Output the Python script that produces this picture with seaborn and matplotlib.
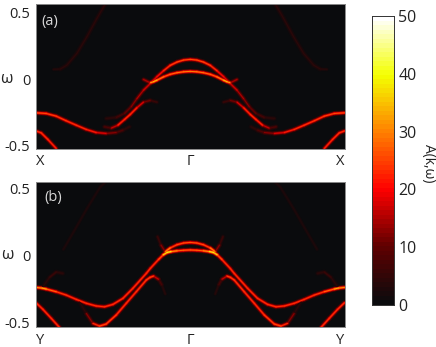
import numpy as np
import pandas as pd
import matplotlib
matplotlib.use("Agg")
import matplotlib.pyplot as plt
from matplotlib.colors import LinearSegmentedColormap
import seaborn as sns

# Bands, left half only (the map is mirrored around Gamma)
# each band: k, omega, intensity at each point
a_main_k = [-1.0, -0.934, -0.869, -0.804, -0.739, -0.674, -0.610, -0.545, -0.480, -0.436, -0.394]
a_main_w = [-0.253, -0.258, -0.278, -0.313, -0.346, -0.378, -0.401, -0.408, -0.401, -0.383, -0.358]
a_main_i = [27, 26, 25, 24, 24, 23, 21, 16, 10, 6, 3]

a_low_k = [-1.0, -0.966, -0.923, -0.869]
a_low_w = [-0.389, -0.404, -0.453, -0.521]
a_low_i = [24, 24, 24, 22]

a_hump_k = [-0.556, -0.512, -0.469, -0.426, -0.389, -0.346, -0.303, -0.259, -0.216]
a_hump_w = [-0.358, -0.368, -0.346, -0.303, -0.265, -0.215, -0.173, -0.160, -0.173]
a_hump_i = [5, 12, 22, 24, 24, 22, 14, 8, 3]

a_upper_k = [-0.545, -0.480, -0.426, -0.383, -0.346, -0.303, -0.259, -0.216, -0.173, -0.130, -0.086, -0.043, 0.0]
a_upper_w = [-0.296, -0.288, -0.258, -0.208, -0.147, -0.083, -0.033, 0.018, 0.063, 0.103, 0.128, 0.143, 0.148]
a_upper_i = [3, 6, 9, 12, 14, 16, 19, 20, 22, 25, 26, 26, 26]

a_inner_k = [-0.303, -0.259, -0.238, -0.216, -0.173, -0.130, -0.086, -0.043, 0.0]
a_inner_w = [-0.003, -0.028, -0.019, -0.008, 0.017, 0.036, 0.048, 0.055, 0.058]
a_inner_i = [3, 28, 38, 32, 28, 28, 29, 30, 30]

a_faint_k = [-0.886, -0.843, -0.800, -0.735, -0.670, -0.605, -0.551]
a_faint_w = [0.073, 0.075, 0.105, 0.193, 0.318, 0.456, 0.564]
a_faint_i = [3, 4, 4, 4, 4, 4, 4]

b_main_k = [-1.0, -0.960, -0.934, -0.869, -0.804, -0.739, -0.674, -0.610, -0.556, -0.501, -0.436, -0.372, -0.285, -0.259, -0.205, -0.175, -0.150, -0.125, -0.086, -0.043, 0.0]
b_main_w = [-0.238, -0.243, -0.250, -0.270, -0.295, -0.327, -0.356, -0.376, -0.382, -0.364, -0.319, -0.245, -0.134, -0.097, -0.030, 0.004, 0.022, 0.028, 0.034, 0.038, 0.040]
b_main_i = [28, 36, 32, 25, 24, 24, 24, 24, 24, 24, 24, 24, 24, 24, 24, 30, 44, 36, 28, 28, 28]

b_arch_k = [-0.162, -0.130, -0.086, -0.043, 0.0]
b_arch_w = [0.027, 0.055, 0.079, 0.092, 0.096]
b_arch_i = [36, 25, 26, 27, 27]

b_flare_k = [-0.162, -0.190, -0.212]
b_flare_w = [0.027, 0.077, 0.139]
b_flare_i = [18, 8, 3]

b_low_k = [-1.0, -0.955, -0.901, -0.848]
b_low_w = [-0.352, -0.401, -0.468, -0.535]
b_low_i = [24, 24, 24, 24]

b_second_k = [-0.718, -0.674, -0.631, -0.588, -0.545, -0.480, -0.415, -0.350, -0.285, -0.260, -0.238, -0.205, -0.184, -0.162]
b_second_w = [-0.344, -0.431, -0.505, -0.525, -0.510, -0.443, -0.356, -0.270, -0.183, -0.163, -0.154, -0.178, -0.220, -0.287]
b_second_i = [3, 5, 20, 27, 26, 24, 24, 24, 25, 26, 24, 10, 5, 2]

b_small_k = [-0.955, -0.912, -0.869, -0.826]
b_small_w = [-0.233, -0.163, -0.124, -0.134]
b_small_i = [3, 5, 6, 3]

b_faint_k = [-0.822, -0.757, -0.670, -0.584, -0.549]
b_faint_w = [0.045, 0.173, 0.347, 0.507, 0.545]
b_faint_i = [3, 3, 3, 3, 3]

bands_a = [(a_main_k, a_main_w, a_main_i), (a_low_k, a_low_w, a_low_i), (a_hump_k, a_hump_w, a_hump_i),
           (a_upper_k, a_upper_w, a_upper_i), (a_inner_k, a_inner_w, a_inner_i), (a_faint_k, a_faint_w, a_faint_i)]
bands_b = [(b_main_k, b_main_w, b_main_i), (b_arch_k, b_arch_w, b_arch_i), (b_flare_k, b_flare_w, b_flare_i),
           (b_low_k, b_low_w, b_low_i), (b_second_k, b_second_w, b_second_i), (b_small_k, b_small_w, b_small_i),
           (b_faint_k, b_faint_w, b_faint_i)]

color_stops = ["#0a0b0d", "#600000", "#ff0000", "#ff8000", "#f4ff00", "#ffffff"]
cbar_ticks = [0, 10, 20, 30, 40, 50]
omega_ticks = [-0.5, 0, 0.5]
omega_labels = ["-0.5", "0", "0.5"]

sns.set_theme(style="white")
plt.rcParams["font.family"] = ["Open Sans", "DejaVu Sans"]

cmap = LinearSegmentedColormap.from_list("spectral_hot", color_stops, N=64)
W, H = 436, 347


def box(x0, y0, x1, y1):
    return [x0 / W, 1 - y1 / H, (x1 - x0) / W, (y1 - y0) / H]


def segments(bands):
    rows = []
    seg = 0
    for k, w, i in bands:
        for sign in (1, -1):
            for n in range(len(k) - 1):
                level = (i[n] + i[n + 1]) / 2
                rows.append((sign * k[n], w[n], level, seg))
                rows.append((sign * k[n + 1], w[n + 1], level, seg))
                seg += 1
    return pd.DataFrame(rows, columns=["k", "w", "level", "seg"])


# glow built up from wide dim strokes to a narrow bright one
glow = [(3.6, 0.2), (2.6, 0.42), (1.7, 0.72), (0.7, 1.0)]

fig = plt.figure(figsize=(W / 100, H / 100), dpi=100)
cax = fig.add_axes(box(372, 16, 394, 305))


def panel(y0, y1, bands, ylim, sym, tag, tag_xy, wlabel_xy):
    bg = fig.add_axes(box(36, y0, 344.5, y1))
    sns.heatmap(np.zeros((2, 2)), ax=bg, cmap=cmap, vmin=0, vmax=50, cbar=True, cbar_ax=cax,
                xticklabels=False, yticklabels=False)
    ax = fig.add_axes(box(36, y0, 344.5, y1))
    ax.patch.set_alpha(0)
    df = segments(bands)
    for lw, frac in glow:
        layer = df.assign(level=df["level"] * frac)
        sns.lineplot(data=layer, x="k", y="w", hue="level", units="seg", estimator=None, sort=False,
                     palette=cmap, hue_norm=(0, 50), legend=False, linewidth=lw,
                     solid_capstyle="round", ax=ax)
    ax.set_xlim(-1, 1)
    ax.set_ylim(*ylim)
    ax.set_xlabel("")
    ax.set_ylabel("")
    ax.set_xticks([-0.972, 0, 0.972], [sym, "Γ", sym])
    ax.set_yticks(omega_ticks, omega_labels)
    ax.tick_params(length=0, pad=4, labelsize=10.5, colors="#222222")
    for s in ax.spines.values():
        s.set_visible(True)
        s.set_color("#8a8a8a")
        s.set_linewidth(0.7)
    fig.text(tag_xy[0] / W, 1 - tag_xy[1] / H, tag, color="#d8d8d8", fontsize=10.5, ha="center", va="center")
    fig.text(wlabel_xy[0] / W, 1 - wlabel_xy[1] / H, "ω", color="#222222", fontsize=11.5, ha="center", va="center")


panel(4, 148.5, bands_a, (-0.521, 0.564), "X", "(a)", (50, 21), (6, 79))
panel(182, 327, bands_b, (-0.532, 0.545), "Y", "(b)", (53, 198), (7, 255))

cax.set_yticks(cbar_ticks, [str(t) for t in cbar_ticks])
cax.tick_params(axis="y", direction="in", length=2, width=0.5, pad=3, labelsize=11.5, colors="#222222", right=True)
for s in cax.spines.values():
    s.set_visible(True)
    s.set_color("#333333")
    s.set_linewidth(0.6)
fig.text(428 / W, 1 - 163 / H, "A(k,ω)", rotation=270, color="#222222", fontsize=10, ha="center", va="center")

fig.savefig("out.png", dpi=100)
